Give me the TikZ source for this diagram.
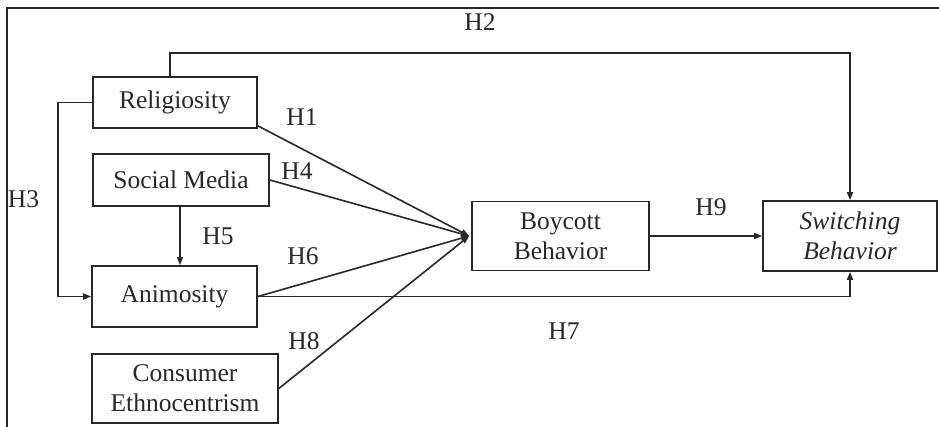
\documentclass[tikz,border=0pt]{standalone}
\usepackage{fontspec}
\setmainfont{Liberation Serif}
\usetikzlibrary{arrows.meta}
\definecolor{ink}{RGB}{40,40,40}
\begin{document}
\begin{tikzpicture}[x=1pt,y=-1pt,
  every node/.style={font=\fontsize{25.5}{30}\selectfont, text=ink},
  box/.style={draw=ink, line width=1.7pt, align=center, inner sep=0pt},
  link/.style={draw=ink, line width=1.6pt},
  arr/.style={link, -{Triangle[length=8pt,width=6pt]}},
  hyp/.style={inner sep=0pt}]
  % canvas and the two visible frame edges
  \useasboundingbox (0,0) rectangle (939,427);
  \fill[white] (0,0) rectangle (939,427);
  \draw[ink, line width=1.7pt] (7,427) -- (7,8) -- (939,8);

  % constructs
  \node[box, minimum width=164pt, minimum height=51pt] (rel) at (175,102.5) {Religiosity};
  \node[box, minimum width=176pt, minimum height=52pt] (soc) at (181,180) {Social Media};
  \node[box, minimum width=165pt, minimum height=61pt] (ani) at (174.5,296.5) {Animosity};
  \node[box, minimum width=186pt, minimum height=69pt] (eth) at (185,388.5) {Consumer\\Ethnocentrism};
  \node[box, minimum width=177pt, minimum height=69pt] (boy) at (560.5,236) {Boycott\\Behavior};
  \node[box, minimum width=174pt, minimum height=70pt] (sw) at (850,236) {\itshape Switching\\\itshape Behavior};

  % routing helpers
  \coordinate (h2lvl) at (0,53);
  \coordinate (hub) at ([xshift=-2pt]boy.west);

  % paths
  \draw[arr] ([xshift=-5pt]rel.north) |- (h2lvl -| sw.north) -- (sw.north);
  \draw[arr] (rel.west) -- ++(-34,0) |- (ani.west);
  \draw[arr] ([xshift=-1pt]soc.south) -- ([xshift=-1pt]soc.south |- ani.north);
  \draw[arr] ([yshift=3pt]rel.south east) -- (hub);
  \draw[arr] (soc.east) -- (hub);
  \draw[arr] (ani.east) -- (hub);
  \draw[arr] (eth.east) -- (hub);
  \draw[arr] (ani.east) -| (sw.south);
  \draw[arr] (boy.east) -- (sw.west);

  % hypothesis labels
  \node[hyp] (lh1) at (302,117) {H1};
  \node[hyp] (lh2) at (480,22.5) {H2};
  \node[hyp] (lh3) at (23.5,199) {H3};
  \node[hyp] (lh4) at (297,171) {H4};
  \node[hyp] (lh5) at (218,236) {H5};
  \node[hyp] (lh6) at (303,256) {H6};
  \node[hyp] (lh7) at (564,331) {H7};
  \node[hyp] (lh8) at (304,341) {H8};
  \node[hyp] (lh9) at (711,207) {H9};
\end{tikzpicture}
\end{document}
